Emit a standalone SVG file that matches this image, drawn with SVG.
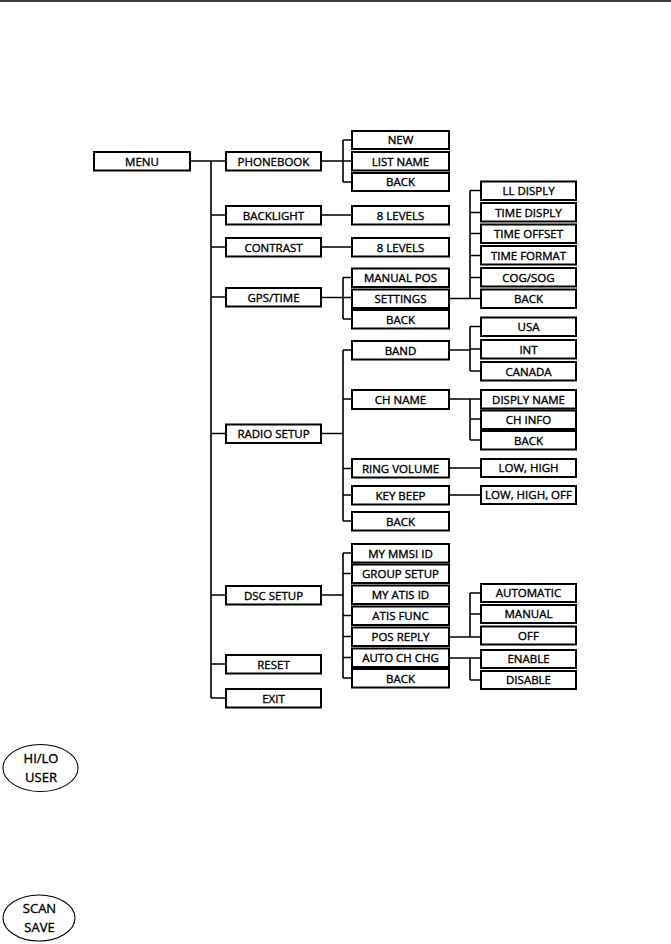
<svg xmlns="http://www.w3.org/2000/svg" width="671" height="944" viewBox="0 0 671 944">
<style>
.box{fill:#fff;stroke:#000;stroke-width:2}
.ln{fill:none;stroke:#000;stroke-width:1.6}
.btn{fill:none;stroke:#000;stroke-width:1.1}
text{font-family:"Open Sans","Noto Sans","Liberation Sans",sans-serif;font-size:11.5px;text-anchor:middle;fill:#000;stroke:#000;stroke-width:0.35}
.bt{font-size:13px}
</style>
<rect width="671" height="944" fill="#fff"/>
<line x1="0" y1="1" x2="671" y2="1" stroke="#000" stroke-width="1.6"/>

<g id="connectors">
<path class="ln" d="M190 161H226M211 161V698M211 215H226M211 247H226M211 297H226M211 433.5H226M211 595H226M211 664H226M211 698H226"/>
<path class="ln" d="M321 161H352M343 140V182M343 140H352M343 182H352"/>
<path class="ln" d="M321 215H352M321 247H352"/>
<path class="ln" d="M321 297.5H352M343 277.5V319M343 277.5H352M343 319H352"/>
<path class="ln" d="M449 298.5H481M470 190.5V298.5M470 190.5H481M470 212.5H481M470 233.5H481M470 255.5H481M470 277.5H481"/>
<path class="ln" d="M321 433.5H343M343 350V521M343 350H352M343 399H352M343 468.5H352M343 495H352M343 521H352"/>
<path class="ln" d="M449 350H470M470 326.5V371M470 326.5H481M470 349H481M470 371H481"/>
<path class="ln" d="M449 399H481M470 399V440M470 419H481M470 440H481"/>
<path class="ln" d="M449 468H481M449 495H481"/>
<path class="ln" d="M321 595H343M343 553V678M343 553H352M343 573.5H352M343 615.5H352M343 636.5H352M343 657.5H352M343 678H352"/>
<path class="ln" d="M449 637H481M470 593V637M470 593H481M470 614H481"/>
<path class="ln" d="M449 658H481M470 658V680M470 680H481"/>
</g>

<g id="menu"><rect class="box" x="94" y="152" width="96" height="18.5"/><text x="142" y="165.5">MENU</text></g>

<g id="phonebook"><rect class="box" x="226" y="152" width="95" height="18.5"/><text x="273.5" y="165.5">PHONEBOOK</text></g>
<g id="backlight"><rect class="box" x="226" y="206" width="95" height="18.5"/><text x="273.5" y="219.5">BACKLIGHT</text></g>
<g id="contrast"><rect class="box" x="226" y="238" width="95" height="18.5"/><text x="273.5" y="251.5">CONTRAST</text></g>
<g id="gpstime"><rect class="box" x="226" y="288" width="95" height="18.5"/><text x="273.5" y="301.5">GPS/TIME</text></g>
<g id="radiosetup"><rect class="box" x="226" y="424.5" width="95" height="18.5"/><text x="273.5" y="438">RADIO SETUP</text></g>
<g id="dscsetup"><rect class="box" x="226" y="586" width="95" height="18.5"/><text x="273.5" y="599.5">DSC SETUP</text></g>
<g id="reset"><rect class="box" x="226" y="655" width="95" height="18.5"/><text x="273.5" y="668.5">RESET</text></g>
<g id="exit"><rect class="box" x="226" y="689" width="95" height="18.5"/><text x="273.5" y="702.5">EXIT</text></g>

<g id="pb-new"><rect class="box" x="352" y="131" width="97" height="18"/><text x="400.5" y="144">NEW</text></g>
<g id="pb-listname"><rect class="box" x="352" y="152" width="97" height="18.5"/><text x="400.5" y="165.5">LIST NAME</text></g>
<g id="pb-back"><rect class="box" x="352" y="173" width="97" height="18"/><text x="400.5" y="186">BACK</text></g>
<g id="bl-levels"><rect class="box" x="352" y="206" width="97" height="18.5"/><text x="400.5" y="219.5">8 LEVELS</text></g>
<g id="ct-levels"><rect class="box" x="352" y="238" width="97" height="18.5"/><text x="400.5" y="251.5">8 LEVELS</text></g>
<g id="gps-manualpos"><rect class="box" x="352" y="268.5" width="97" height="18.5"/><text x="400.5" y="282">MANUAL POS</text></g>
<g id="gps-settings"><rect class="box" x="352" y="289.5" width="97" height="18.5"/><text x="400.5" y="303">SETTINGS</text></g>
<g id="gps-back"><rect class="box" x="352" y="310" width="97" height="18.5"/><text x="400.5" y="323.5">BACK</text></g>

<g id="set-lldisply"><rect class="box" x="481" y="181.5" width="95" height="18.5"/><text x="528.5" y="195">LL DISPLY</text></g>
<g id="set-timedisply"><rect class="box" x="481" y="203" width="95" height="18.5"/><text x="528.5" y="216.5">TIME DISPLY</text></g>
<g id="set-timeoffset"><rect class="box" x="481" y="224.5" width="95" height="18.5"/><text x="528.5" y="238">TIME OFFSET</text></g>
<g id="set-timeformat"><rect class="box" x="481" y="246" width="95" height="18.5"/><text x="528.5" y="259.5">TIME FORMAT</text></g>
<g id="set-cogsog"><rect class="box" x="481" y="268" width="95" height="18.5"/><text x="528.5" y="281.5">COG/SOG</text></g>
<g id="set-back"><rect class="box" x="481" y="289.5" width="95" height="18.5"/><text x="528.5" y="303">BACK</text></g>

<g id="rs-band"><rect class="box" x="352" y="341" width="97" height="18.5"/><text x="400.5" y="354.5">BAND</text></g>
<g id="rs-chname"><rect class="box" x="352" y="390" width="97" height="19"/><text x="400.5" y="403.5">CH NAME</text></g>
<g id="rs-ringvolume"><rect class="box" x="352" y="459" width="97" height="18.5"/><text x="400.5" y="472.5">RING VOLUME</text></g>
<g id="rs-keybeep"><rect class="box" x="352" y="486" width="97" height="18.5"/><text x="400.5" y="499.5">KEY BEEP</text></g>
<g id="rs-back"><rect class="box" x="352" y="512" width="97" height="18.5"/><text x="400.5" y="525.5">BACK</text></g>

<g id="band-usa"><rect class="box" x="481" y="317.5" width="95" height="18.5"/><text x="528.5" y="331">USA</text></g>
<g id="band-int"><rect class="box" x="481" y="340" width="95" height="18.5"/><text x="528.5" y="353.5">INT</text></g>
<g id="band-canada"><rect class="box" x="481" y="362" width="95" height="18.5"/><text x="528.5" y="375.5">CANADA</text></g>
<g id="ch-displyname"><rect class="box" x="481" y="390" width="95" height="18.5"/><text x="528.5" y="403.5">DISPLY NAME</text></g>
<g id="ch-chinfo"><rect class="box" x="481" y="410.5" width="95" height="18.5"/><text x="528.5" y="424">CH INFO</text></g>
<g id="ch-back"><rect class="box" x="481" y="431" width="95" height="18.5"/><text x="528.5" y="444.5">BACK</text></g>
<g id="ring-lowhigh"><rect class="box" x="481" y="459" width="95" height="18"/><text x="528.5" y="472">LOW, HIGH</text></g>
<g id="key-lowhighoff"><rect class="box" x="481" y="486" width="95" height="18"/><text x="528.5" y="499">LOW, HIGH, OFF</text></g>

<g id="dsc-mymmsiid"><rect class="box" x="352" y="544" width="97" height="18.5"/><text x="400.5" y="557.5">MY MMSI ID</text></g>
<g id="dsc-groupsetup"><rect class="box" x="352" y="564.5" width="97" height="18.5"/><text x="400.5" y="578">GROUP SETUP</text></g>
<g id="dsc-myatisid"><rect class="box" x="352" y="585.5" width="97" height="18.5"/><text x="400.5" y="599">MY ATIS ID</text></g>
<g id="dsc-atisfunc"><rect class="box" x="352" y="606.5" width="97" height="18.5"/><text x="400.5" y="620">ATIS FUNC</text></g>
<g id="dsc-posreply"><rect class="box" x="352" y="627.5" width="97" height="18.5"/><text x="400.5" y="641">POS REPLY</text></g>
<g id="dsc-autochchg"><rect class="box" x="352" y="648.5" width="97" height="18.5"/><text x="400.5" y="662">AUTO CH CHG</text></g>
<g id="dsc-back"><rect class="box" x="352" y="669" width="97" height="18.5"/><text x="400.5" y="682.5">BACK</text></g>

<g id="pos-automatic"><rect class="box" x="481" y="584" width="95" height="18"/><text x="528.5" y="597">AUTOMATIC</text></g>
<g id="pos-manual"><rect class="box" x="481" y="605" width="95" height="18"/><text x="528.5" y="618">MANUAL</text></g>
<g id="pos-off"><rect class="box" x="481" y="626.5" width="95" height="18"/><text x="528.5" y="639.5">OFF</text></g>
<g id="auto-enable"><rect class="box" x="481" y="650" width="95" height="18"/><text x="528.5" y="663">ENABLE</text></g>
<g id="auto-disable"><rect class="box" x="481" y="671" width="95" height="18"/><text x="528.5" y="684">DISABLE</text></g>

<g id="btn-hilo"><ellipse class="btn" cx="40.5" cy="768" rx="37.5" ry="23.5"/><text class="bt" x="41" y="763">HI/LO</text><text class="bt" x="41" y="781.5">USER</text></g>
<g id="btn-scan"><ellipse class="btn" cx="39" cy="918" rx="36" ry="23"/><text class="bt" x="39.5" y="913">SCAN</text><text class="bt" x="39.5" y="932">SAVE</text></g>
</svg>
